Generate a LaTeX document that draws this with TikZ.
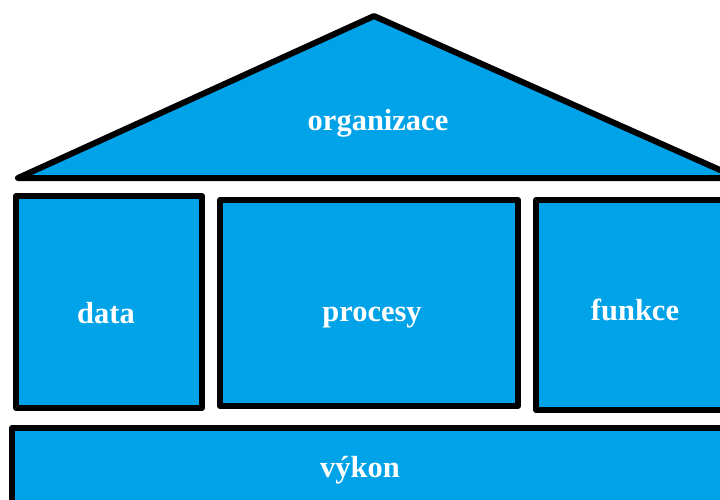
\documentclass[tikz,border=0pt]{standalone}
\usepackage{fontspec}
\setmainfont{Liberation Serif}
\usepackage{tikz}
\definecolor{paintblue}{RGB}{0,162,232}

\begin{document}
\begin{tikzpicture}[x=1pt,y=-1pt,join=round,line width=6pt]
          \useasboundingbox (0,0) rectangle (720,500);
          \clip (0,0) rectangle (720,500);
          \filldraw[fill=paintblue](18,178)--(374,16)--(738,178)--cycle;
          \filldraw[fill=paintblue](16,196) rectangle (202,408);
          \filldraw[fill=paintblue](220,200) rectangle (518,406);
          \filldraw[fill=paintblue](536,200) rectangle (740,410);
          \filldraw[fill=paintblue](12,428) rectangle (740,520);
          \path[white,font=\fontsize{30.5}{30.5}\selectfont\bfseries]
                (378,131) node [anchor=base] (organizace) {organizace}
                (106,323) node [anchor=base] (data) {data}
                (372,321) node [anchor=base] (procesy) {procesy}
                (635,320) node [anchor=base] (funkce) {funkce}
                (360,477) node [anchor=base] (vykon) {výkon};
    \end{tikzpicture}
\end{document}
